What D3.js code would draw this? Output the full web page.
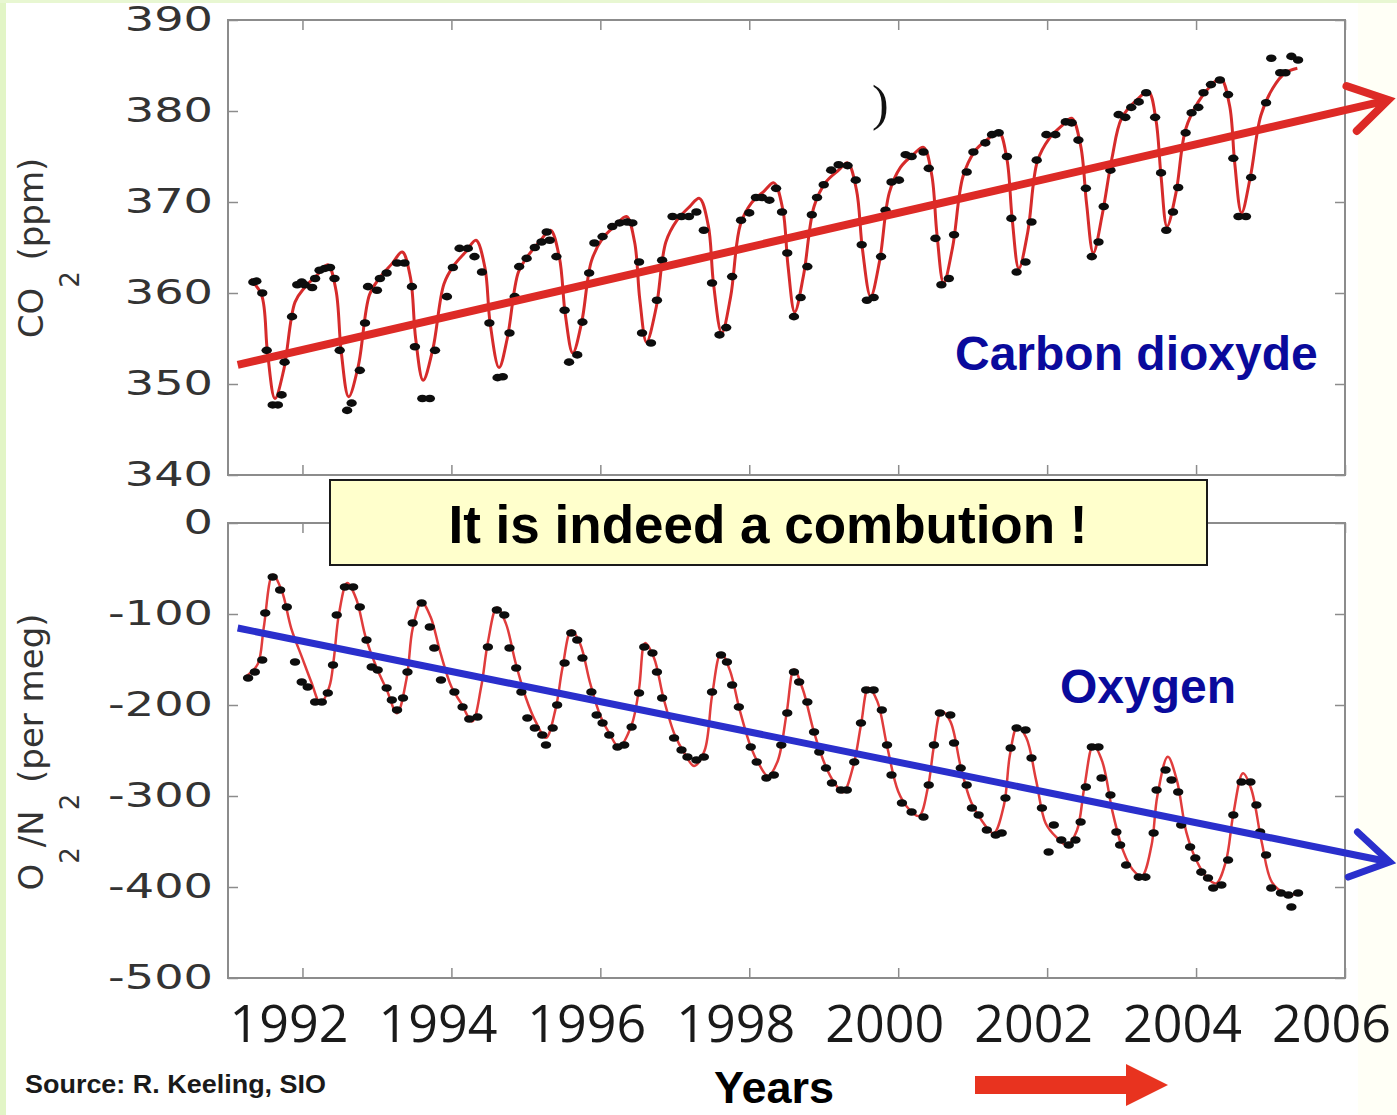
<!DOCTYPE html>
<html>
<head>
<meta charset="utf-8">
<script src="https://cdn.jsdelivr.net/npm/d3@7"></script>
<style>
  html, body { margin: 0; padding: 0; background: #ffffff; }
  svg { display: block; }
</style>
</head>
<body>
<script>
// ---- data -------------------------------------------------------------
const yearTicks = [1992, 1994, 1996, 1998, 2000, 2002, 2004, 2006];
const co2Ticks = [340, 350, 360, 370, 380, 390];
const o2Ticks = [-500, -400, -300, -200, -100, 0];

// Monthly CO2 flask measurements [decimal year, ppm]
const co2Dots = [
  [1991.34,361.2],[1991.38,361.3],[1991.46,360.0],[1991.52,353.7],[1991.60,347.7],[1991.67,347.7],
  [1991.72,348.8],[1991.76,352.4],[1991.86,357.4],[1991.93,360.9],[1991.99,361.2],[1992.03,360.9],
  [1992.13,360.6],[1992.17,361.6],[1992.23,362.5],[1992.30,362.7],[1992.37,362.8],[1992.43,361.6],
  [1992.50,353.7],[1992.60,347.1],[1992.66,347.9],[1992.77,351.5],[1992.84,356.7],[1992.88,360.7],
  [1993.00,360.3],[1993.04,361.6],[1993.13,362.2],[1993.27,363.3],[1993.37,363.3],[1993.47,360.7],
  [1993.51,354.1],[1993.61,348.4],[1993.71,348.4],[1993.78,353.7],[1993.94,359.6],[1994.02,362.8],
  [1994.11,364.9],[1994.22,364.9],[1994.31,364.0],[1994.41,362.3],[1994.51,356.7],[1994.62,350.7],
  [1994.69,350.8],[1994.78,355.6],[1994.85,359.6],[1994.91,362.9],[1995.01,363.8],[1995.12,365.0],
  [1995.21,365.6],[1995.28,366.7],[1995.32,365.8],[1995.41,364.0],[1995.52,358.1],[1995.58,352.4],
  [1995.69,353.2],[1995.76,356.8],[1995.85,362.2],[1995.92,365.5],[1996.03,366.2],[1996.16,367.3],
  [1996.26,367.7],[1996.36,367.8],[1996.43,367.7],[1996.52,363.4],[1996.56,355.6],[1996.68,354.5],
  [1996.76,359.2],[1996.83,363.6],[1996.97,368.4],[1997.09,368.4],[1997.19,368.4],[1997.29,368.9],
  [1997.39,366.9],[1997.50,361.1],[1997.60,355.4],[1997.69,356.2],[1997.77,361.8],[1997.89,368.0],
  [1998.00,368.8],[1998.09,370.5],[1998.17,370.5],[1998.27,370.2],[1998.36,371.5],[1998.44,368.9],
  [1998.51,364.4],[1998.60,357.4],[1998.69,359.5],[1998.78,362.9],[1998.84,368.6],[1998.91,370.5],
  [1999.00,371.9],[1999.10,373.5],[1999.20,374.1],[1999.32,374.0],[1999.43,372.4],[1999.51,365.3],
  [1999.58,359.2],[1999.67,359.5],[1999.77,364.0],[1999.83,369.1],[1999.91,372.2],[2000.01,372.4],
  [2000.10,375.2],[2000.18,375.0],[2000.34,375.5],[2000.41,373.7],[2000.50,366.0],[2000.58,360.9],
  [2000.68,361.6],[2000.75,366.4],[2000.92,373.3],[2001.01,375.5],[2001.17,376.5],[2001.26,377.4],
  [2001.35,377.6],[2001.46,375.0],[2001.52,368.2],[2001.59,362.3],[2001.71,363.4],[2001.79,367.8],
  [2001.86,374.6],[2001.99,377.4],[2002.11,377.4],[2002.25,378.8],[2002.33,378.7],[2002.42,376.8],
  [2002.52,371.5],[2002.60,364.0],[2002.69,365.6],[2002.76,369.5],[2002.85,373.5],[2002.96,379.6],
  [2003.05,379.3],[2003.13,380.4],[2003.23,381.0],[2003.33,382.0],[2003.45,379.3],[2003.53,373.2],
  [2003.60,366.9],[2003.69,368.9],[2003.76,371.6],[2003.86,377.6],[2003.94,379.8],[2004.03,380.4],
  [2004.10,382.0],[2004.20,382.9],[2004.32,383.4],[2004.43,381.8],[2004.50,374.8],[2004.57,368.4],
  [2004.67,368.4],[2004.74,372.7],[2004.94,380.9],[2005.01,385.8],[2005.13,384.2],[2005.20,384.2],
  [2005.28,386.0],[2005.37,385.6]
];

// Smooth seasonal fit to the CO2 record [decimal year, ppm]
const co2Fit = [
  [1991.30,361.5],[1991.45,359.8],[1991.53,353.5],[1991.63,348.4],[1991.75,351.6],[1991.90,359.0],
  [1992.03,360.6],[1992.20,362.0],[1992.34,363.1],[1992.45,360.3],[1992.52,353.6],[1992.62,348.6],
  [1992.75,352.0],[1992.90,359.8],[1993.03,361.6],[1993.20,363.2],[1993.34,364.5],[1993.45,361.7],
  [1993.52,355.0],[1993.62,350.4],[1993.75,353.8],[1993.90,361.0],[1994.03,363.0],[1994.20,364.6],
  [1994.33,365.8],[1994.45,362.8],[1994.52,356.7],[1994.64,351.8],[1994.75,355.0],[1994.90,362.3],
  [1995.03,364.1],[1995.20,365.8],[1995.33,366.9],[1995.45,363.9],[1995.53,357.6],[1995.63,353.4],
  [1995.75,356.8],[1995.88,363.5],[1996.03,366.0],[1996.20,367.4],[1996.35,368.4],[1996.46,365.6],
  [1996.53,359.3],[1996.62,354.6],[1996.75,358.4],[1996.88,365.6],[1997.03,368.0],[1997.20,369.5],
  [1997.33,370.4],[1997.45,367.4],[1997.52,361.0],[1997.63,355.6],[1997.75,359.6],[1997.88,367.5],
  [1998.03,369.9],[1998.20,371.2],[1998.33,372.1],[1998.45,369.2],[1998.52,363.0],[1998.61,357.9],
  [1998.73,362.0],[1998.87,369.5],[1999.03,372.2],[1999.20,373.5],[1999.32,374.3],[1999.44,371.3],
  [1999.52,364.8],[1999.63,359.6],[1999.75,363.5],[1999.88,371.0],[2000.03,373.8],[2000.20,375.2],
  [2000.34,376.0],[2000.45,373.0],[2000.52,366.5],[2000.61,361.1],[2000.73,365.0],[2000.87,372.8],
  [2001.03,375.6],[2001.20,376.9],[2001.35,377.7],[2001.46,374.7],[2001.53,368.2],[2001.62,362.7],
  [2001.74,366.7],[2001.87,374.5],[2002.03,377.0],[2002.20,378.4],[2002.33,379.2],[2002.45,376.2],
  [2002.53,369.8],[2002.62,364.4],[2002.74,368.6],[2002.87,374.8],[2003.00,379.2],[2003.20,381.2],
  [2003.36,382.1],[2003.46,379.1],[2003.53,372.8],[2003.61,367.3],[2003.73,371.0],[2003.86,378.0],
  [2004.03,381.0],[2004.20,382.8],[2004.33,383.6],[2004.45,380.6],[2004.52,374.2],[2004.61,368.8],
  [2004.73,372.8],[2004.87,379.5],[2005.03,382.5],[2005.20,384.2],[2005.36,384.7]
];

// Monthly O2/N2 measurements [decimal year, per meg]
const o2Dots = [
  [1991.27,-170.3],[1991.36,-163.7],[1991.46,-150.5],[1991.50,-98.9],[1991.60,-59.3],[1991.70,-73.6],
  [1991.79,-92.3],[1991.90,-152.7],[1991.99,-174.7],[1992.07,-180.2],[1992.17,-196.7],[1992.26,-196.7],
  [1992.34,-186.8],[1992.41,-156.1],[1992.46,-101.1],[1992.57,-70.3],[1992.68,-70.3],[1992.77,-92.3],
  [1992.86,-128.6],[1992.93,-158.3],[1993.01,-161.6],[1993.13,-181.3],[1993.20,-194.5],[1993.27,-205.5],
  [1993.35,-192.3],[1993.41,-163.7],[1993.48,-109.9],[1993.60,-87.9],[1993.71,-114.3],[1993.77,-137.4],
  [1993.86,-172.5],[1994.04,-185.7],[1994.15,-202.2],[1994.24,-215.4],[1994.35,-213.2],[1994.49,-136.3],
  [1994.61,-95.6],[1994.71,-101.1],[1994.78,-137.4],[1994.87,-159.4],[1994.94,-185.7],[1995.02,-214.3],
  [1995.12,-225.3],[1995.22,-233.0],[1995.27,-244.0],[1995.36,-225.3],[1995.42,-200.0],[1995.52,-153.9],
  [1995.61,-120.9],[1995.69,-128.6],[1995.76,-148.4],[1995.88,-185.7],[1995.95,-211.0],[1996.03,-219.8],
  [1996.12,-233.0],[1996.23,-246.2],[1996.32,-244.0],[1996.42,-224.2],[1996.52,-186.8],[1996.59,-136.3],
  [1996.70,-142.9],[1996.76,-163.7],[1996.83,-192.3],[1996.99,-236.3],[1997.09,-249.5],[1997.17,-257.2],
  [1997.29,-260.5],[1997.39,-257.2],[1997.50,-185.7],[1997.62,-145.1],[1997.70,-152.8],[1997.77,-178.0],
  [1997.86,-202.2],[1998.02,-246.2],[1998.10,-262.7],[1998.23,-280.2],[1998.33,-276.9],[1998.43,-244.0],
  [1998.51,-208.8],[1998.60,-163.7],[1998.67,-174.7],[1998.78,-196.7],[1998.87,-229.7],[1998.94,-251.7],
  [1999.03,-269.3],[1999.11,-285.7],[1999.23,-293.4],[1999.31,-293.4],[1999.41,-262.7],[1999.50,-219.8],
  [1999.57,-183.5],[1999.67,-183.5],[1999.78,-205.5],[1999.85,-244.0],[1999.91,-276.9],[2000.05,-307.7],
  [2000.18,-317.6],[2000.34,-323.1],[2000.41,-287.9],[2000.48,-244.0],[2000.56,-208.8],[2000.70,-211.0],
  [2000.75,-241.8],[2000.84,-269.3],[2000.92,-287.9],[2000.99,-313.2],[2001.08,-320.9],[2001.19,-337.4],
  [2001.31,-342.9],[2001.39,-340.7],[2001.44,-302.2],[2001.51,-247.3],[2001.59,-225.3],[2001.71,-227.5],
  [2001.79,-258.3],[2001.93,-313.2],[2002.02,-361.6],[2002.09,-331.9],[2002.19,-348.4],[2002.29,-353.9],
  [2002.38,-348.4],[2002.45,-328.6],[2002.52,-290.1],[2002.60,-246.2],[2002.69,-246.2],[2002.73,-280.2],
  [2002.85,-298.9],[2002.93,-339.6],[2002.98,-353.9],[2003.06,-375.9],[2003.23,-389.1],[2003.32,-389.1],
  [2003.43,-340.7],[2003.47,-293.4],[2003.59,-271.4],[2003.67,-282.4],[2003.76,-295.6],[2003.80,-331.9],
  [2003.92,-356.1],[2003.99,-368.2],[2004.07,-383.6],[2004.16,-390.1],[2004.23,-401.1],[2004.34,-397.8],
  [2004.43,-370.4],[2004.50,-320.9],[2004.61,-284.6],[2004.73,-284.6],[2004.81,-309.9],[2004.86,-339.6],
  [2004.94,-364.9],[2005.01,-401.1],[2005.14,-406.6],[2005.24,-408.8],[2005.28,-422.0],[2005.37,-406.6]
];

// Smooth seasonal fit to the O2/N2 record [decimal year, per meg]
const o2Fit = [
  [1991.25,-168],[1991.40,-155],[1991.48,-115],[1991.60,-57],[1991.72,-74],[1991.85,-116],
  [1992.00,-149],[1992.12,-175],[1992.24,-198],[1992.36,-180],[1992.42,-150],[1992.49,-100],
  [1992.60,-66],[1992.72,-83],[1992.85,-126],[1993.00,-160],[1993.13,-183],[1993.27,-209],
  [1993.40,-170],[1993.48,-116],[1993.60,-87],[1993.72,-103],[1993.85,-142],[1994.00,-180],
  [1994.13,-198],[1994.28,-218],[1994.40,-180],[1994.49,-131],[1994.61,-93],[1994.73,-110],
  [1994.86,-153],[1995.00,-192],[1995.13,-218],[1995.27,-236],[1995.40,-204],[1995.49,-160],
  [1995.61,-118],[1995.73,-133],[1995.86,-175],[1996.00,-212],[1996.12,-231],[1996.25,-246],
  [1996.42,-222],[1996.52,-182],[1996.60,-132],[1996.72,-148],[1996.85,-193],[1997.00,-233],
  [1997.13,-253],[1997.26,-267],[1997.40,-250],[1997.50,-190],[1997.62,-143],[1997.74,-162],
  [1997.87,-205],[1998.02,-246],[1998.13,-265],[1998.25,-278],[1998.38,-262],[1998.50,-210],
  [1998.60,-161],[1998.72,-183],[1998.87,-230],[1999.03,-268],[1999.14,-285],[1999.26,-296],
  [1999.40,-266],[1999.50,-222],[1999.60,-181],[1999.72,-196],[1999.85,-245],[2000.00,-295],
  [2000.14,-314],[2000.28,-322],[2000.40,-290],[2000.48,-245],[2000.58,-207],[2000.70,-218],
  [2000.84,-268],[2000.98,-307],[2001.13,-328],[2001.28,-341],[2001.42,-310],[2001.50,-255],
  [2001.60,-224],[2001.72,-236],[2001.85,-282],[2001.98,-330],[2002.12,-345],[2002.27,-354],
  [2002.40,-338],[2002.50,-290],[2002.62,-244],[2002.74,-262],[2002.88,-318],[2003.02,-360],
  [2003.15,-381],[2003.27,-388],[2003.40,-355],[2003.48,-300],[2003.62,-257],[2003.74,-282],
  [2003.87,-340],[2004.00,-370],[2004.15,-390],[2004.27,-396],[2004.40,-372],[2004.50,-320],
  [2004.63,-275],[2004.74,-292],[2004.88,-350],[2005.02,-395],[2005.20,-407],[2005.35,-408]
];

// Long-term trend arrows (start, tip) [decimal year, value]
const co2Trend = [[1991.13, 352.1], [2006.58, 381.2]];
const o2Trend = [[1991.13, -115.4], [2006.60, -372.5]];

// ---- layout -----------------------------------------------------------
const W = 1397, H = 1115;
const plotLeft = 228, plotRight = 1345;
const topPanel = { top: 20, bottom: 475 };
const botPanel = { top: 523, bottom: 978 };

const x = d3.scaleLinear().domain([1991, 2006]).range([plotLeft, plotRight]);
const yCO2 = d3.scaleLinear().domain([340, 390]).range([topPanel.bottom, topPanel.top]);
const yO2 = d3.scaleLinear().domain([-500, 0]).range([botPanel.bottom, botPanel.top]);

const svg = d3.select("body").append("svg")
  .attr("width", W).attr("height", H)
  .attr("viewBox", `0 0 ${W} ${H}`);

// page background with the pale green slide edge
svg.append("rect").attr("width", W).attr("height", H).attr("fill", "#ffffff");
svg.append("rect").attr("x", 1358).attr("y", 0).attr("width", W - 1358).attr("height", H).attr("fill", "#fffff6");
svg.append("rect").attr("x", 0).attr("y", 0).attr("width", 6).attr("height", H).attr("fill", "#e2f5c6");
svg.append("rect").attr("x", 0).attr("y", 0).attr("width", W).attr("height", 3).attr("fill", "#e8f7d2");

const axisColor = "#8c8c8c";
const labelColor = "#333333";
const tickScaleX = 1.36;

function frame(panel, yScale, ticks) {
  const g = svg.append("g");
  // inward ticks on all four sides
  g.append("g").attr("transform", `translate(0,${panel.bottom})`)
    .call(d3.axisBottom(x).tickValues(yearTicks).tickSize(-10).tickFormat(""));
  g.append("g").attr("transform", `translate(0,${panel.top})`)
    .call(d3.axisTop(x).tickValues(yearTicks).tickSize(-10).tickFormat(""));
  g.append("g").attr("transform", `translate(${plotRight},0)`)
    .call(d3.axisRight(yScale).tickValues(ticks).tickSize(-10).tickFormat(""));
  const left = g.append("g").attr("transform", `translate(${plotLeft},0)`)
    .call(d3.axisLeft(yScale).tickValues(ticks).tickSize(-10).tickPadding(0).tickFormat(d => String(d)));
  g.selectAll(".domain").remove();
  g.selectAll(".tick line").attr("stroke", axisColor).attr("stroke-width", 1.5);
  left.selectAll(".tick text")
    .attr("font-family", "'DejaVu Sans', Verdana, sans-serif")
    .attr("font-size", 34)
    .attr("fill", labelColor)
    .attr("x", -15 / tickScaleX)
    .attr("transform", `scale(${tickScaleX},1)`);
  g.append("rect")
    .attr("x", plotLeft).attr("y", panel.top)
    .attr("width", plotRight - plotLeft).attr("height", panel.bottom - panel.top)
    .attr("fill", "none").attr("stroke", axisColor).attr("stroke-width", 2);
  return g;
}

frame(topPanel, yCO2, co2Ticks);
frame(botPanel, yO2, o2Ticks);

// year labels under the lower panel
const xLab = svg.append("g").attr("transform", `translate(0,${botPanel.bottom})`)
  .call(d3.axisBottom(x).tickValues(yearTicks).tickSize(0).tickPadding(0).tickFormat(d => String(d)));
xLab.select(".domain").remove();
xLab.selectAll(".tick text")
  .attr("font-family", "'Open Sans', 'Liberation Sans', sans-serif")
  .attr("font-size", 52)
  .attr("fill", "#1a1a1a")
  .attr("dy", 0).attr("y", 64).attr("dx", -14);

// remnant of the clipped panel title
svg.append("text").attr("x", plotLeft + 644).attr("y", 120)
  .attr("font-family", "'Liberation Serif', 'DejaVu Serif', serif")
  .attr("font-size", 50).attr("fill", "#111").text(")");

// ---- series -----------------------------------------------------------
function series(yScale, fit, dots, trend, lineColor, lineWidth, trendColor, trendWidth) {
  const g = svg.append("g");
  g.append("path").datum(fit)
    .attr("d", d3.line().x(d => x(d[0])).y(d => yScale(d[1])).curve(d3.curveCatmullRom.alpha(0.5)))
    .attr("fill", "none").attr("stroke", lineColor).attr("stroke-width", lineWidth)
    .attr("stroke-linejoin", "round");
  g.selectAll("ellipse").data(dots).join("ellipse")
    .attr("cx", d => x(d[0])).attr("cy", d => yScale(d[1]))
    .attr("rx", 5.2).attr("ry", 3.8).attr("fill", "#0d0d0d");

  // trend arrow with an open chevron head
  const [p0, p1] = trend.map(d => [x(d[0]), yScale(d[1])]);
  g.append("line")
    .attr("x1", p0[0]).attr("y1", p0[1]).attr("x2", p1[0]).attr("y2", p1[1])
    .attr("stroke", trendColor).attr("stroke-width", trendWidth).attr("stroke-linecap", "butt");
  const ang = Math.atan2(p0[1] - p1[1], p0[0] - p1[0]);
  const arm = 44, spread = 0.55;
  const a1 = [p1[0] + arm * Math.cos(ang + spread), p1[1] + arm * Math.sin(ang + spread)];
  const a2 = [p1[0] + arm * Math.cos(ang - spread), p1[1] + arm * Math.sin(ang - spread)];
  g.append("path")
    .attr("d", `M${a1[0]},${a1[1]}L${p1[0]},${p1[1]}L${a2[0]},${a2[1]}`)
    .attr("fill", "none").attr("stroke", trendColor).attr("stroke-width", trendWidth)
    .attr("stroke-linejoin", "miter").attr("stroke-linecap", "round");
}

series(yCO2, co2Fit, co2Dots, co2Trend, "#d62b2b", 3, "#dd2a26", 8);
series(yO2, o2Fit, o2Dots, o2Trend, "#e03c3c", 2.5, "#2a2fcc", 7);

// ---- axis titles (rotated, with dropped subscripts) -----------------------
function yTitle(cx, cy, parts) {
  const t = svg.append("text")
    .attr("transform", `translate(${cx},${cy}) rotate(-90)`)
    .attr("text-anchor", "middle")
    .attr("font-family", "'DejaVu Sans', Verdana, sans-serif")
    .attr("font-size", 34).attr("fill", labelColor);
  const drop = 36;
  let shifted = false;
  parts.forEach(p => {
    const s = t.append("tspan").text(p.text);
    if (p.sub) {
      s.attr("dy", drop).attr("font-size", 26);
      shifted = true;
    } else if (shifted) {
      s.attr("dy", -drop);
      shifted = false;
    }
  });
}
yTitle(43, 248, [{ text: "CO" }, { text: "2", sub: true }, { text: " (ppm)" }]);
yTitle(43, 752, [{ text: "O" }, { text: "2", sub: true }, { text: "/N" }, { text: "2", sub: true }, { text: " (per meg)" }]);

// ---- annotations --------------------------------------------------------
svg.append("rect").attr("x", 330).attr("y", 480).attr("width", 877).attr("height", 85)
  .attr("fill", "#ffffcc").attr("stroke", "#1a1a1a").attr("stroke-width", 2);
svg.append("text").attr("x", 768).attr("y", 543).attr("text-anchor", "middle")
  .attr("font-family", "'Liberation Sans', Arial, sans-serif").attr("font-weight", "bold")
  .attr("font-size", 53).attr("fill", "#000").text("It is indeed a combution !");

svg.append("text").attr("x", 955).attr("y", 370)
  .attr("font-family", "'Liberation Sans', Arial, sans-serif").attr("font-weight", "bold")
  .attr("font-size", 48).attr("fill", "#0a0a9c").text("Carbon dioxyde");

svg.append("rect").attr("x", 1040).attr("y", 660).attr("width", 215).attr("height", 58).attr("fill", "#ffffff");
svg.append("text").attr("x", 1060).attr("y", 703)
  .attr("font-family", "'Liberation Sans', Arial, sans-serif").attr("font-weight", "bold")
  .attr("font-size", 48).attr("fill", "#0a0a9c").text("Oxygen");

svg.append("text").attr("x", 25).attr("y", 1093)
  .attr("font-family", "'Liberation Sans', Arial, sans-serif").attr("font-weight", "bold")
  .attr("font-size", 26).attr("fill", "#1a1a1a")
  .attr("textLength", 301).attr("lengthAdjust", "spacingAndGlyphs")
  .text("Source: R. Keeling, SIO");

svg.append("text").attr("x", 714).attr("y", 1103)
  .attr("font-family", "'Liberation Sans', Arial, sans-serif").attr("font-weight", "bold")
  .attr("font-size", 45).attr("fill", "#000")
  .text("Years");

// block arrow pointing forward in time
svg.append("path")
  .attr("d", "M975,1076 L1126,1076 L1126,1064 L1168,1085 L1126,1106 L1126,1094 L975,1094 Z")
  .attr("fill", "#e8331f");
</script>
</body>
</html>
